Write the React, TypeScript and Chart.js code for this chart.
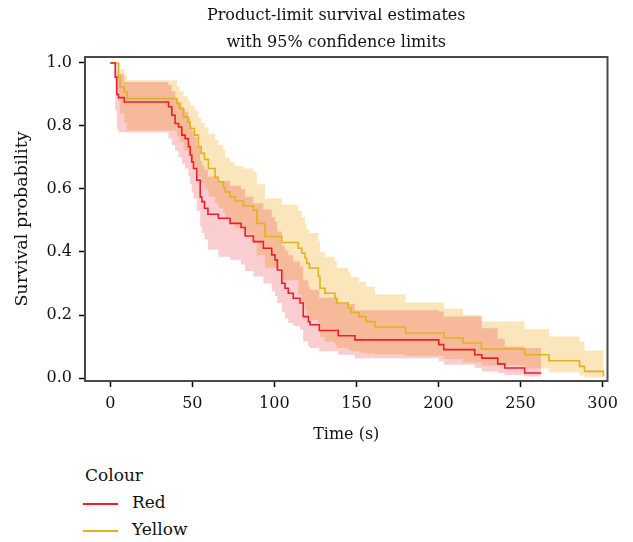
import React, { useEffect, useRef } from 'react';
import { Chart, registerables } from 'chart.js';
Chart.register(...registerables);

const titleLines = ['Product-limit survival estimates', 'with 95% confidence limits'];
const xTitle = 'Time (s)';
const yTitle = 'Survival probability';
const legendTitle = 'Colour';
const seriesNames = ['Red', 'Yellow'];
const xTicks = [0, 50, 100, 150, 200, 250, 300];
const yTicks = [0, 0.2, 0.4, 0.6, 0.8, 1.0];

const redTime = [0, 3, 4, 5, 8.5, 35.5, 37.5, 39.5, 41.6, 43.6, 45.6, 47.6, 48.7, 49.7, 50.7, 52.7, 54.8, 55.8, 57.4, 59.5, 65.9, 73, 79.7, 82.2, 87.2, 93.3, 98.4, 100.4, 101.8, 104.5, 106.5, 108.5, 111.5, 115.6, 117.6, 120.7, 121.7, 127.4, 138.9, 149.1, 200.2, 203.2, 222.1, 226.4, 236.1, 240.4, 252.5, 262.6];
const redSurv = [1.0, 0.955, 0.9, 0.89, 0.876, 0.861, 0.834, 0.808, 0.797, 0.771, 0.76, 0.734, 0.708, 0.686, 0.665, 0.628, 0.575, 0.56, 0.539, 0.52, 0.507, 0.491, 0.478, 0.451, 0.433, 0.412, 0.391, 0.375, 0.343, 0.301, 0.285, 0.269, 0.253, 0.238, 0.195, 0.179, 0.169, 0.151, 0.134, 0.121, 0.106, 0.09, 0.074, 0.063, 0.045, 0.032, 0.016, 0.016];
const redLower = [1.0, 0.85, 0.79, 0.78, 0.78, 0.76, 0.74, 0.72, 0.7, 0.68, 0.665, 0.64, 0.615, 0.59, 0.57, 0.53, 0.48, 0.46, 0.44, 0.407, 0.385, 0.375, 0.36, 0.34, 0.322, 0.3, 0.275, 0.26, 0.238, 0.21, 0.19, 0.175, 0.165, 0.153, 0.116, 0.1, 0.095, 0.085, 0.074, 0.063, 0.053, 0.042, 0.032, 0.021, 0.015, 0.01, 0.005, 0.005];
const redUpper = [1.0, 1.0, 0.975, 0.965, 0.94, 0.93, 0.91, 0.885, 0.875, 0.855, 0.845, 0.825, 0.8, 0.785, 0.765, 0.735, 0.69, 0.675, 0.66, 0.64, 0.625, 0.61, 0.6, 0.575, 0.555, 0.535, 0.51, 0.495, 0.465, 0.42, 0.405, 0.39, 0.37, 0.355, 0.31, 0.29, 0.28, 0.255, 0.235, 0.215, 0.211, 0.195, 0.195, 0.158, 0.125, 0.1, 0.095, 0.095];

const yelTime = [0, 5, 6, 8.5, 10.2, 40.6, 42.2, 44.6, 47.3, 48.7, 51.3, 53.7, 55.4, 57.4, 59.8, 63.9, 65.9, 68.9, 70, 73, 76.1, 81.1, 87.2, 89.3, 94.3, 104.5, 114.6, 116.7, 118.7, 119.7, 121.3, 126.8, 127.8, 130.8, 136.9, 138, 145, 146.6, 151.7, 155.8, 161.3, 179.9, 203.4, 215, 226.2, 252.5, 267.3, 286, 289, 300.5];
const yelSurv = [1.0, 0.955, 0.924, 0.908, 0.887, 0.871, 0.856, 0.829, 0.813, 0.792, 0.771, 0.734, 0.713, 0.694, 0.665, 0.637, 0.623, 0.605, 0.591, 0.575, 0.562, 0.546, 0.533, 0.491, 0.449, 0.43, 0.412, 0.396, 0.38, 0.364, 0.349, 0.322, 0.285, 0.269, 0.253, 0.238, 0.222, 0.208, 0.195, 0.179, 0.162, 0.143, 0.127, 0.111, 0.092, 0.074, 0.055, 0.037, 0.021, 0.005];
const yelLower = [1.0, 0.88, 0.84, 0.81, 0.786, 0.766, 0.75, 0.723, 0.705, 0.69, 0.665, 0.64, 0.618, 0.6, 0.575, 0.555, 0.54, 0.525, 0.51, 0.49, 0.475, 0.455, 0.43, 0.39, 0.35, 0.31, 0.265, 0.24, 0.22, 0.2, 0.185, 0.16, 0.13, 0.115, 0.105, 0.095, 0.09, 0.085, 0.08, 0.078, 0.075, 0.07, 0.06, 0.05, 0.04, 0.03, 0.018, 0.008, 0.002, 0.002];
const yelUpper = [1.0, 1.0, 0.98, 0.96, 0.945, 0.925, 0.91, 0.895, 0.88, 0.865, 0.85, 0.825, 0.81, 0.795, 0.775, 0.755, 0.74, 0.725, 0.7, 0.685, 0.672, 0.665, 0.655, 0.615, 0.57, 0.55, 0.53, 0.51, 0.49, 0.47, 0.46, 0.435, 0.4, 0.385, 0.37, 0.35, 0.335, 0.32, 0.305, 0.29, 0.265, 0.24, 0.22, 0.2, 0.179, 0.155, 0.132, 0.116, 0.087, 0.087];

const RED = '#EC1F27';
const YEL = '#E2B11F';
const RED_BAND = 'rgba(232,40,50,0.23)';
const YEL_BAND = 'rgba(240,178,45,0.33)';
const FONT = '"DejaVu Serif", serif';

const pts = (t: number[], v: number[]) => t.map((x, i) => ({ x, y: v[i] }));

const framePlugin = {
  id: 'frame',
  afterDatasetsDraw(chart: any) {
    const { ctx, chartArea: a } = chart;
    ctx.save();
    ctx.strokeStyle = '#4a4a4a';
    ctx.lineWidth = 2;
    ctx.strokeRect(a.left, a.top, a.right - a.left, a.bottom - a.top);
    ctx.restore();
  },
};

const titlePlugin = {
  id: 'twoLineTitle',
  afterDraw(chart: any) {
    const { ctx, chartArea: a } = chart;
    ctx.save();
    ctx.font = '16px ' + FONT;
    ctx.fillStyle = '#111';
    ctx.textAlign = 'center';
    ctx.textBaseline = 'alphabetic';
    const cx = (a.left + a.right) / 2 - 10;
    ctx.fillText(titleLines[0], cx, 12);
    ctx.fillText(titleLines[1], cx, 39);
    ctx.restore();
  },
};

export default function App() {
  const ref = useRef<HTMLCanvasElement>(null);
  useEffect(() => {
    document.body.style.margin = '0';
    if (!ref.current) return;
    const lineDs = (label: string, t: number[], v: number[], color: string) => ({
      label, data: pts(t, v), borderColor: color, backgroundColor: color, borderWidth: 1.6,
      pointRadius: 0, stepped: true, fill: false,
    });
    const bandDs = (label: string, t: number[], v: number[], fill: any, color: string) => ({
      label, data: pts(t, v), borderWidth: 0, borderColor: 'rgba(0,0,0,0)', backgroundColor: color,
      pointRadius: 0, stepped: true, fill,
    });
    const gridOpts = { drawOnChartArea: false, drawTicks: true, tickLength: 6, tickColor: '#000', tickWidth: 1.5 };
    const chart = new Chart(ref.current, {
      type: 'line',
      data: {
        datasets: [
          lineDs(seriesNames[0], redTime, redSurv, RED),
          lineDs(seriesNames[1], yelTime, yelSurv, YEL),
          bandDs('red lower', redTime, redLower, false, RED_BAND),
          bandDs('red upper', redTime, redUpper, 2, RED_BAND),
          bandDs('yellow lower', yelTime, yelLower, false, YEL_BAND),
          bandDs('yellow upper', yelTime, yelUpper, 4, YEL_BAND),
        ] as any,
      },
      options: {
        animation: false,
        responsive: false,
        devicePixelRatio: 1,
        layout: { padding: { left: 0, right: 17, top: 49, bottom: 7 } },
        font: { family: FONT, size: 16 } as any,
        plugins: { legend: { display: false }, tooltip: { enabled: false }, title: { display: false } },
        scales: {
          x: {
            type: 'linear', min: -15.4, max: 303,
            afterFit: (s: any) => { s.height = 70; },
            afterBuildTicks: (s: any) => { s.ticks = xTicks.map((v) => ({ value: v })); },
            grid: gridOpts, border: { display: false },
            ticks: { padding: 7, maxRotation: 0, color: '#111', font: { family: FONT, size: 16 }, callback: (v: any) => String(v) },
            title: { display: true, text: xTitle, color: '#111', font: { family: FONT, size: 16 }, padding: { top: 0, bottom: 7 } },
          },
          y: {
            type: 'linear', min: -0.0095, max: 1.019,
            afterFit: (s: any) => { s.width = 77; },
            afterBuildTicks: (s: any) => { s.ticks = yTicks.map((v) => ({ value: v })); },
            grid: gridOpts, border: { display: false },
            ticks: { padding: 7, color: '#111', font: { family: FONT, size: 16 }, callback: (v: any) => Number(v).toFixed(1) },
            title: { display: true, text: yTitle, color: '#111', font: { family: FONT, size: 17.5 }, padding: { top: 4, bottom: 0 } },
          },
        },
      } as any,
      plugins: [framePlugin, titlePlugin],
    });
    return () => chart.destroy();
  }, []);

  const legendText: React.CSSProperties = { position: 'absolute', fontFamily: FONT, fontSize: 17, color: '#111', lineHeight: '20px', whiteSpace: 'nowrap' };
  const swatch = (color: string, top: number): React.CSSProperties => ({ position: 'absolute', left: 83, top, width: 35, height: 2, background: color });
  return (
    <div style={{ position: 'relative', width: 633, height: 542, overflow: 'hidden' }}>
      <canvas ref={ref} width={617} height={450} style={{ display: 'block', position: 'absolute', left: 8, top: 8 }} />
      <div style={{ ...legendText, left: 85, top: 465 }}>{legendTitle}</div>
      <div style={swatch(RED, 503)} />
      <div style={{ ...legendText, left: 132, top: 492 }}>{seriesNames[0]}</div>
      <div style={swatch(YEL, 530)} />
      <div style={{ ...legendText, left: 132, top: 519 }}>{seriesNames[1]}</div>
    </div>
  );
}
